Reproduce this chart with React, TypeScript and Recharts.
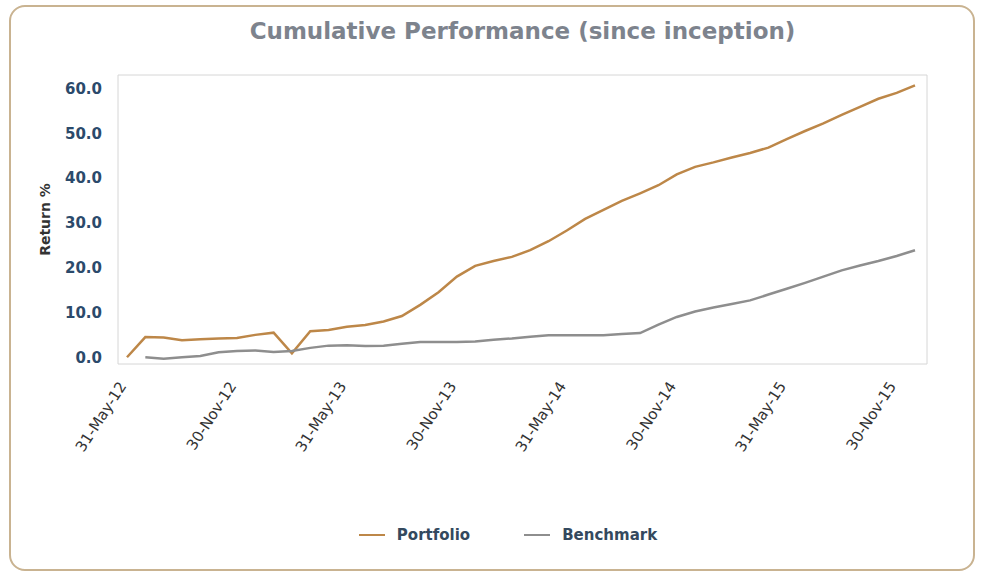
import React from 'react'
import { LineChart, Line, XAxis, YAxis, Legend } from 'recharts'

// month-end dates, May-12 .. Dec-15
const dates = [
  '31-May-12', '30-Jun-12', '31-Jul-12', '31-Aug-12', '30-Sep-12', '31-Oct-12', '30-Nov-12', '31-Dec-12',
  '31-Jan-13', '28-Feb-13', '31-Mar-13', '30-Apr-13', '31-May-13', '30-Jun-13', '31-Jul-13', '31-Aug-13',
  '30-Sep-13', '31-Oct-13', '30-Nov-13', '31-Dec-13', '31-Jan-14', '28-Feb-14', '31-Mar-14', '30-Apr-14',
  '31-May-14', '30-Jun-14', '31-Jul-14', '31-Aug-14', '30-Sep-14', '31-Oct-14', '30-Nov-14', '31-Dec-14',
  '31-Jan-15', '28-Feb-15', '31-Mar-15', '30-Apr-15', '31-May-15', '30-Jun-15', '31-Jul-15', '31-Aug-15',
  '30-Sep-15', '31-Oct-15', '30-Nov-15', '31-Dec-15'
]

const portfolio = [
  0, 4.5, 4.4, 3.8, 4.0, 4.2, 4.3, 5.0, 5.5, 0.9, 5.8, 6.1, 6.8, 7.2, 8.0, 9.2,
  11.7, 14.5, 18.0, 20.4, 21.5, 22.4, 23.9, 25.9, 28.3, 30.9, 32.9, 34.9, 36.6, 38.4,
  40.8, 42.5, 43.5, 44.6, 45.6, 46.8, 48.7, 50.5, 52.2, 54.1, 55.9, 57.7, 59.0, 60.7
]

const benchmark = [
  null, 0, -0.3, 0, 0.3, 1.1, 1.4, 1.5, 1.2, 1.4, 2.1, 2.6, 2.7, 2.5, 2.6, 3.0,
  3.4, 3.4, 3.4, 3.5, 3.9, 4.2, 4.6, 4.9, 4.9, 4.9, 4.9, 5.2, 5.4, 7.3,
  9.0, 10.2, 11.1, 11.9, 12.7, 14.0, 15.3, 16.6, 18.0, 19.4, 20.5, 21.5, 22.6, 23.9
]

const yTicks = [0, 10, 20, 30, 40, 50, 60]

const series = [
  { key: 'portfolio', name: 'Portfolio', color: '#bd8748' },
  { key: 'benchmark', name: 'Benchmark', color: '#8e8e8e' }
]

const data = dates.map((date, i) => ({
  date,
  portfolio: portfolio[i],
  benchmark: benchmark[i]
}))

const font = '"DejaVu Sans", Verdana, sans-serif'
const frameColor = '#d6d6d6'

const XTick = ({ x, y, payload }: any) => (
  <g transform={`translate(${x},${y + 20})`}>
    <text
      textAnchor="end"
      transform="rotate(-57)"
      fill="#333"
      fontSize={15}
      fontFamily={font}
    >
      {payload.value}
    </text>
  </g>
)

const LegendContent = () => (
  <div style={{ display: 'flex', justifyContent: 'center', paddingLeft: 58, height: 24, alignItems: 'center' }}>
    {series.map((s, i) => (
      <div key={s.key} style={{ display: 'flex', alignItems: 'center', marginLeft: i ? 54 : 0 }}>
        <span style={{ width: 26, height: 2, background: s.color, display: 'inline-block', marginRight: 12 }} />
        <span style={{ fontFamily: font, fontWeight: 'bold', fontSize: 15, color: '#34495e' }}>{s.name}</span>
      </div>
    ))}
  </div>
)

export default function App() {
  return (
    <div style={{ position: 'absolute', left: 0, top: 0, width: 982, height: 577, background: '#fff' }}>
      <div
        style={{
          position: 'absolute', left: 9, top: 5, width: 962, height: 562,
          border: '2px solid #c9b391', borderRadius: 16
        }}
      />
      <div
        style={{
          position: 'absolute', left: 118, width: 809, top: 18, textAlign: 'center',
          fontFamily: font, fontWeight: 'bold', fontSize: 23, color: '#7d838d'
        }}
      >
        Cumulative Performance (since inception)
      </div>
      <div style={{ position: 'absolute', left: 0, top: 0 }}>
        <LineChart
          width={982}
          height={577}
          data={data}
          margin={{ top: 74, right: 54, left: 30, bottom: 30 }}
        >
          <XAxis
            dataKey="date"
            interval={5}
            tick={<XTick />}
            tickLine={false}
            tickSize={0}
            axisLine={{ stroke: frameColor }}
            height={159}
            padding={{ left: 9, right: 12 }}
          />
          <XAxis xAxisId="top" orientation="top" dataKey="date" tick={false} tickLine={false} height={1} axisLine={{ stroke: frameColor }} />
          <YAxis
            domain={[-1.5, 63]}
            ticks={yTicks}
            allowDataOverflow
            tickFormatter={(v: number) => v.toFixed(1)}
            tick={{ fill: '#2b4a6b', fontSize: 15, fontWeight: 'bold', fontFamily: font }}
            tickLine={false}
            tickSize={0}
            tickMargin={16}
            axisLine={{ stroke: frameColor }}
            width={88}
            label={{
              value: 'Return %', angle: -90, position: 'insideLeft', offset: 15,
              style: { fill: '#333', fontSize: 14, fontWeight: 'bold', fontFamily: font, textAnchor: 'middle' }
            }}
          />
          <YAxis yAxisId="right" orientation="right" tick={false} tickLine={false} width={1} axisLine={{ stroke: frameColor }} />
          <Legend verticalAlign="bottom" content={<LegendContent />} />
          {series.map((s) => (
            <Line
              key={s.key}
              type="linear"
              dataKey={s.key}
              name={s.name}
              stroke={s.color}
              strokeWidth={2.5}
              dot={false}
              connectNulls={false}
              isAnimationActive={false}
            />
          ))}
        </LineChart>
      </div>
    </div>
  )
}
